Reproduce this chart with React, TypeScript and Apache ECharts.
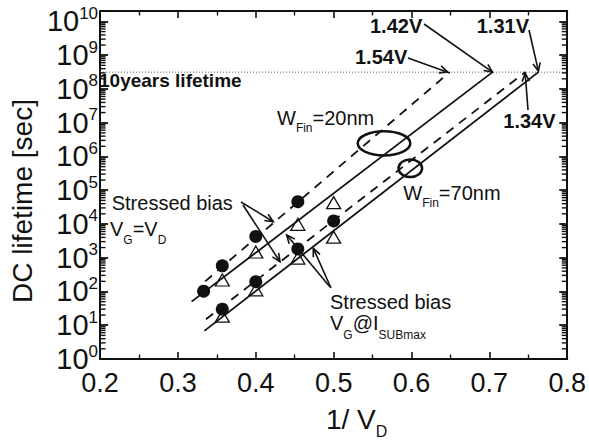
import React, { useEffect, useRef } from "react";
import * as echarts from "echarts";

// ---------- axes ----------
const X_MIN = 0.2;
const X_MAX = 0.8;
const X_STEP = 0.1;
const Y_MIN_EXP = 0; // 10^0 s
const Y_MAX_EXP = 10.31; // frame top, slightly above 10^10 s
const Y_DECADES = [0, 1, 2, 3, 4, 5, 6, 7, 8, 9, 10];
const MINOR_MULTIPLIERS = [2, 3, 4, 5, 6, 7, 8, 9];

const TEN_YEARS_SEC = 3.15e8;
const tenYearsX = [X_MIN, X_MAX];

// ---------- measured lifetimes (s) vs 1/VD ----------
// WFin = 20 nm, stressed VG = VD (filled circles)
const x20Circle = [0.333, 0.357, 0.4, 0.454];
const t20Circle = [102, 575, 4270, 45700];
// WFin = 20 nm, stressed VG @ ISUBmax (open triangles)
const x20Tri = [0.357, 0.4, 0.454, 0.5];
const t20Tri = [219, 1480, 9770, 42700];
// WFin = 70 nm, stressed VG = VD (filled circles)
const x70Circle = [0.357, 0.4, 0.454, 0.5];
const t70Circle = [30, 195, 1820, 12300];
// WFin = 70 nm, stressed VG @ ISUBmax (open triangles)
const x70Tri = [0.357, 0.4, 0.454, 0.5];
const t70Tri = [18.6, 112, 977, 4070];

// ---------- extrapolation lines: start, end at 10 years ----------
const fit20CircleX = [0.335, 0.649]; // 1.54 V
const fit20CircleT = [200, TEN_YEARS_SEC];
const fit20TriX = [0.3175, 0.704]; // 1.42 V
const fit20TriT = [50, TEN_YEARS_SEC];
const fit70CircleX = [0.336, 0.746]; // 1.34 V
const fit70CircleT = [15, TEN_YEARS_SEC];
const fit70TriX = [0.334, 0.763]; // 1.31 V
const fit70TriT = [6.8, TEN_YEARS_SEC];

const FONT = "Liberation Sans";
const INK = "#111";

const pts = (xs: number[], ts: number[]) => xs.map((x, i) => [x, Math.log10(ts[i])]);

function arrow(x1: number, y1: number, x2: number, y2: number, head = 9) {
  const ang = Math.atan2(y2 - y1, x2 - x1);
  const a1 = ang + Math.PI - 0.42;
  const a2 = ang + Math.PI + 0.42;
  return [
    { type: "line", shape: { x1, y1, x2, y2 }, style: { stroke: INK, lineWidth: 1.6 } },
    {
      type: "polyline",
      shape: {
        points: [
          [x2 + head * Math.cos(a1), y2 + head * Math.sin(a1)],
          [x2, y2],
          [x2 + head * Math.cos(a2), y2 + head * Math.sin(a2)],
        ],
      },
      style: { stroke: INK, lineWidth: 1.6, fill: "none" },
    },
  ];
}

function label(x: number, y: number, text: string, size: number, bold = false, rich?: any) {
  return {
    type: "text",
    x,
    y,
    style: {
      text,
      fill: INK,
      fontSize: size,
      fontFamily: FONT,
      fontWeight: bold ? "bold" : "normal",
      align: "left",
      verticalAlign: "middle",
      textAlign: "left",
      textVerticalAlign: "middle",
      rich,
    },
  };
}

const subRich = (main: number, sub: number, pad: number) => ({
  m: { fontSize: main, fontFamily: FONT, color: INK },
  s: { fontSize: sub, fontFamily: FONT, color: INK, padding: [pad, 0, 0, 0] },
});

export default function App() {
  const ref = useRef<HTMLDivElement>(null);

  useEffect(() => {
    if (!ref.current) return;
    const chart = echarts.init(ref.current, null, { renderer: "svg" });

    const xAxisBase = {
      type: "value",
      min: X_MIN,
      max: X_MAX,
      interval: X_STEP,
      axisLine: { show: true, onZero: false, lineStyle: { color: INK, width: 2 } },
      axisTick: { show: true, inside: true, length: 7, lineStyle: { color: INK, width: 1.6 } },
      minorTick: { show: true, splitNumber: 2, length: 4.5, lineStyle: { color: INK, width: 1.4 } },
      splitLine: { show: false },
    };
    const yAxisBase = {
      type: "value",
      min: Y_MIN_EXP,
      max: Y_MAX_EXP,
      interval: 1,
      axisLine: { show: true, onZero: false, lineStyle: { color: INK, width: 2 } },
      axisTick: { show: true, inside: true, length: 8, lineStyle: { color: INK, width: 1.8 } },
      splitLine: { show: false },
    };

    const minorTickData = Y_DECADES.slice(0, -1).flatMap((d) =>
      MINOR_MULTIPLIERS.map((m) => [X_MIN, d + Math.log10(m)])
    );

    const lineStyleSolid = { color: INK, width: 1.8, type: "solid" };
    const lineStyleDash = { color: INK, width: 1.8, type: [9, 7] };

    chart.setOption({
      animation: false,
      grid: { left: 89, right: 21, top: 11, bottom: 81, containLabel: false },
      xAxis: [
        {
          ...xAxisBase,
          position: "bottom",
          axisLabel: { fontSize: 27, fontFamily: FONT, color: INK, margin: 10 },
          name: "1/ V{d|D}",
          nameLocation: "middle",
          nameGap: 41,
          nameTextStyle: {
            fontSize: 28,
            fontFamily: FONT,
            color: INK,
            padding: [0, 0, 0, 46],
            rich: { d: { fontSize: 16, fontFamily: FONT, color: INK, padding: [23, 0, 0, 0] } },
          },
        },
        { ...xAxisBase, position: "top", axisLabel: { show: false } },
      ],
      yAxis: [
        {
          ...yAxisBase,
          position: "left",
          axisLabel: {
            margin: 2,
            formatter: (v: number) =>
              Math.abs(v - Math.round(v)) < 1e-6 ? `{b|10}{s|${Math.round(v)}}` : "",
            rich: {
              b: { fontSize: 29, fontFamily: FONT, color: INK },
              s: { fontSize: 17, fontFamily: FONT, color: INK, padding: [0, 0, 16, 0] },
            },
          },
          name: "DC lifetime [sec]",
          nameLocation: "middle",
          nameRotate: 90,
          nameGap: 52,
          nameTextStyle: { fontSize: 28, fontFamily: FONT, color: INK, padding: [0, 32, 0, 0] },
        },
        { ...yAxisBase, position: "right", axisLabel: { show: false } },
      ],
      series: [
        {
          type: "line",
          data: tenYearsX.map((x) => [x, Math.log10(TEN_YEARS_SEC)]),
          symbol: "none",
          lineStyle: { color: "#555", width: 1, type: [1, 2] },
          z: 1,
        },
        { type: "line", data: pts(fit20CircleX, fit20CircleT), symbol: "none", lineStyle: lineStyleDash, z: 2 },
        { type: "line", data: pts(fit20TriX, fit20TriT), symbol: "none", lineStyle: lineStyleSolid, z: 2 },
        { type: "line", data: pts(fit70CircleX, fit70CircleT), symbol: "none", lineStyle: lineStyleDash, z: 2 },
        { type: "line", data: pts(fit70TriX, fit70TriT), symbol: "none", lineStyle: lineStyleSolid, z: 2 },
        ...[
          [x20Circle, t20Circle],
          [x70Circle, t70Circle],
        ].map(([xs, ts]) => ({
          type: "scatter",
          data: pts(xs, ts),
          symbol: "circle",
          symbolSize: 13,
          itemStyle: { color: INK, opacity: 1 },
          z: 3,
        })),
        ...[
          [x20Tri, t20Tri],
          [x70Tri, t70Tri],
        ].map(([xs, ts]) => ({
          type: "scatter",
          data: pts(xs, ts),
          symbol: "triangle",
          symbolSize: [14, 12],
          itemStyle: { color: "rgba(0,0,0,0)", borderColor: INK, borderWidth: 1.3, opacity: 1 },
          z: 3,
        })),
        {
          type: "custom",
          silent: true,
          clip: false,
          encode: { x: 0, y: 1 },
          data: minorTickData,
          renderItem: (_p: any, api: any) => {
            const yv = api.value(1);
            const l = api.coord([X_MIN, yv]);
            const r = api.coord([X_MAX, yv]);
            return {
              type: "group",
              children: [
                {
                  type: "line",
                  shape: { x1: l[0], y1: l[1], x2: l[0] + 5.5, y2: l[1] },
                  style: { stroke: INK, lineWidth: 1.4 },
                },
                {
                  type: "line",
                  shape: { x1: r[0] - 5.5, y1: r[1], x2: r[0], y2: r[1] },
                  style: { stroke: INK, lineWidth: 1.4 },
                },
              ],
            };
          },
          z: 10,
        },
      ],
    });

    const px = (x: number, t: number) => chart.convertToPixel({ gridIndex: 0 }, [x, Math.log10(t)]) as number[];
    const e20c = px(fit20CircleX[1], fit20CircleT[1]);
    const e20t = px(fit20TriX[1], fit20TriT[1]);
    const e70c = px(fit70CircleX[1], fit70CircleT[1]);
    const e70t = px(fit70TriX[1], fit70TriT[1]);

    chart.setOption({
      graphic: [
        label(99, 80.7, "10years lifetime", 19, true),
        label(370, 25.5, "1.42V", 20, true),
        label(355, 56.7, "1.54V", 20, true),
        label(476.7, 25.5, "1.31V", 20, true),
        label(503.3, 120.8, "1.34V", 20, true),
        ...arrow(424, 24, e20t[0], e20t[1]),
        ...arrow(408, 58, e20c[0] - 2, e20c[1]),
        ...arrow(529, 30, e70t[0], e70t[1] - 1),
        ...arrow(528, 110, e70c[0], e70c[1] + 1),
        label(277, 118.3, "{m|W}{s|Fin}{m|=20nm}", 20, false, subRich(20, 12, 19)),
        label(403.3, 193.3, "{m|W}{s|Fin}{m|=70nm}", 20, false, subRich(20, 12, 19)),
        {
          type: "ellipse",
          shape: { cx: 384, cy: 143.3, rx: 26.3, ry: 12.1 },
          style: { fill: "none", stroke: INK, lineWidth: 2.5 },
        },
        {
          type: "ellipse",
          shape: { cx: 410.3, cy: 168.3, rx: 11.8, ry: 8.8 },
          style: { fill: "none", stroke: INK, lineWidth: 2.5 },
        },
        label(111.7, 202.5, "Stressed bias", 20),
        label(110, 229.2, "{m|V}{s|G}{m|=V}{s|D}", 20, false, subRich(20, 12, 22)),
        ...arrow(241, 202, 273.3, 221.7),
        ...arrow(243, 205, 280, 261.7),
        label(330, 301.7, "Stressed bias", 20),
        label(330, 322.5, "{m|V}{s|G}{m|@I}{s|SUBmax}", 20, false, subRich(20, 12, 24)),
        ...arrow(330, 287, 286.7, 235),
        ...arrow(331, 288, 313.3, 248.3),
      ],
    });

    return () => chart.dispose();
  }, []);

  return (
    <div
      ref={ref}
      style={{ position: "fixed", left: 0, top: 0, width: 589, height: 444, background: "#fff" }}
    />
  );
}
